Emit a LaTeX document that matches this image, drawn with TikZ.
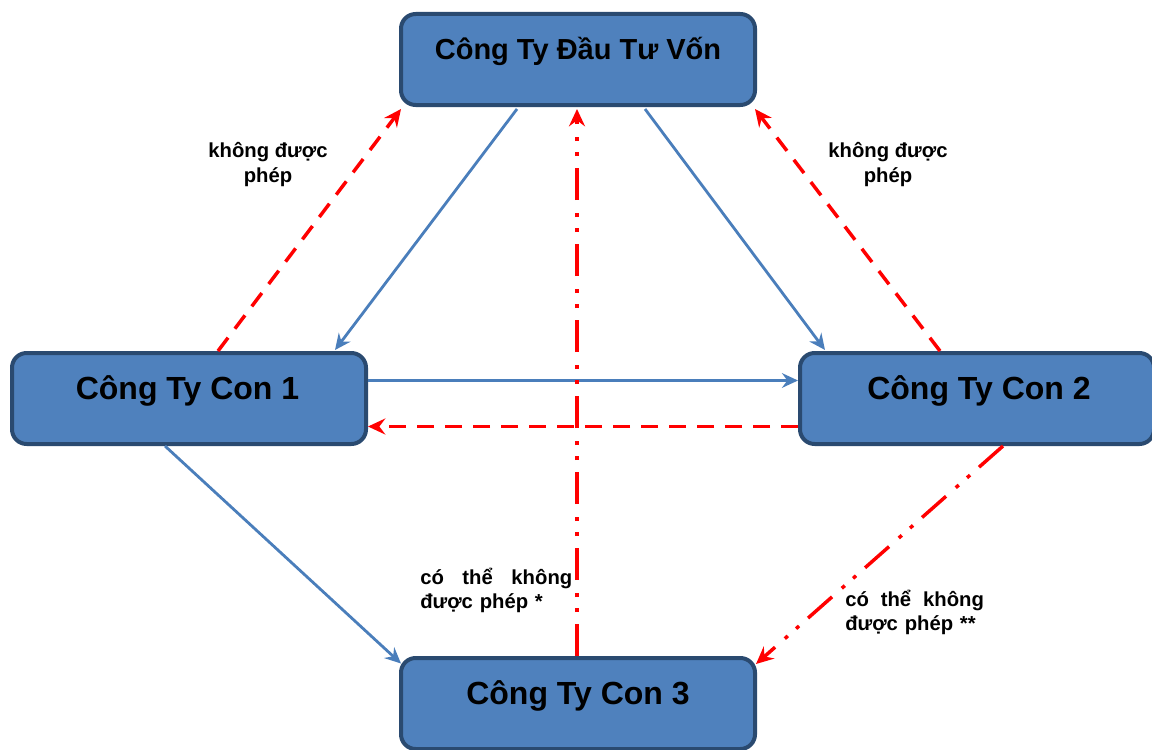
\documentclass[tikz,border=0pt]{standalone}
\usepackage{fontspec}
\setmainfont{Liberation Sans}
\usetikzlibrary{arrows.meta,calc}
\definecolor{boxfill}{HTML}{4F81BD}
\definecolor{boxedge}{HTML}{2A4A70}
\definecolor{lineblue}{HTML}{4A7EBB}
\definecolor{linered}{HTML}{FF0000}
\begin{document}
\begin{tikzpicture}[x=0.75pt,y=-0.75pt,
  box/.style={draw=boxedge, fill=boxfill, line width=3pt, rounded corners=11pt,
    minimum width=265.5pt, minimum height=68.25pt, inner sep=0pt},
  bigtext/.style={font=\bfseries\fontsize{24}{28}\selectfont, anchor=base, inner sep=0pt},
  toptext/.style={font=\bfseries\fontsize{21.75}{26}\selectfont, anchor=base, inner sep=0pt},
  note/.style={font=\bfseries\fontsize{15.2}{18.6}\selectfont, inner sep=0pt},
  blueline/.style={draw=lineblue, line width=2.1pt, -{Stealth[length=12pt,width=11pt,inset=4pt]}},
  reddash/.style={draw=linered, line width=2.6pt, dash pattern=on 12.5pt off 8.5pt,
    -{Stealth[length=13pt,width=12pt,inset=4.5pt]}},
  reddashdot/.style={draw=linered, line width=2.6pt,
    dash pattern=on 24pt off 9pt on 3pt off 8.25pt on 3pt off 9.75pt,
    -{Stealth[length=13pt,width=12pt,inset=4.5pt]}},
]
\useasboundingbox (0,0) rectangle (1152,749);

\node[box] (top) at (578,59.5) {};
\node[box] (c1) at (189,398.5) {};
\node[box] (c2) at (977,398.5) {};
\node[box] (c3) at (578,703.5) {};

\node[toptext] (ttop) at ($(top.center)+(0,0.5)$) {Công Ty Đầu Tư Vốn};
\node[bigtext] (tc1) at ($(c1.center)+(-1.5,0.5)$) {Công Ty Con 1};
\node[bigtext] (tc2) at ($(c2.center)+(2,0.5)$) {Công Ty Con 2};
\node[bigtext] (tc3) at ($(c3.center)+(0,1)$) {Công Ty Con 3};

% blue connectors
\draw[blueline] ($(top.south)+(-61,2)$) -- ($(c1.north)+(146,-1)$);
\draw[blueline] ($(top.south)+(67,2)$) -- ($(c2.north)+(-152,-1)$);
\draw[blueline] ($(c1.east)+(0,-18)$) -- ($(c2.west)+(0,-18)$);
\draw[blueline] ($(c1.south)+(-24,0)$) -- ($(c3.west)+(2,-40)$);

% red dashed connectors
\draw[reddash] ($(c1.north)+(29,0)$) -- ($(top.south west)+(2,2)$);
\draw[reddash] ($(c2.north)+(-37,0)$) -- ($(top.south east)+(-2,2)$);
\draw[reddash] ($(c2.west)+(0,28)$) -- ($(c1.east)+(0,28)$);

% red dash-dot connectors
\draw[reddashdot] ($(c3.north)+(-1,0)$) -- ($(top.south)+(-1,2)$);
\draw[reddashdot] ($(c2.south)+(26,0)$) -- ($(c3.north east)+(-1,8)$);

% labels
\node[note, align=center, anchor=base] (l1) at (268,182) {không được\\phép};
\node[note, align=center, anchor=base] (l2) at (888,182) {không được\\phép};
\node[note, align=left, text width=114pt, anchor=base west] (l3) at (420,584)
  {có\hfill thể\hfill không\\được phép *};
\node[note, align=left, text width=104pt, anchor=base west] (l4) at (845,606)
  {có\hfill thể\hfill không\\được phép **};
\end{tikzpicture}
\end{document}
